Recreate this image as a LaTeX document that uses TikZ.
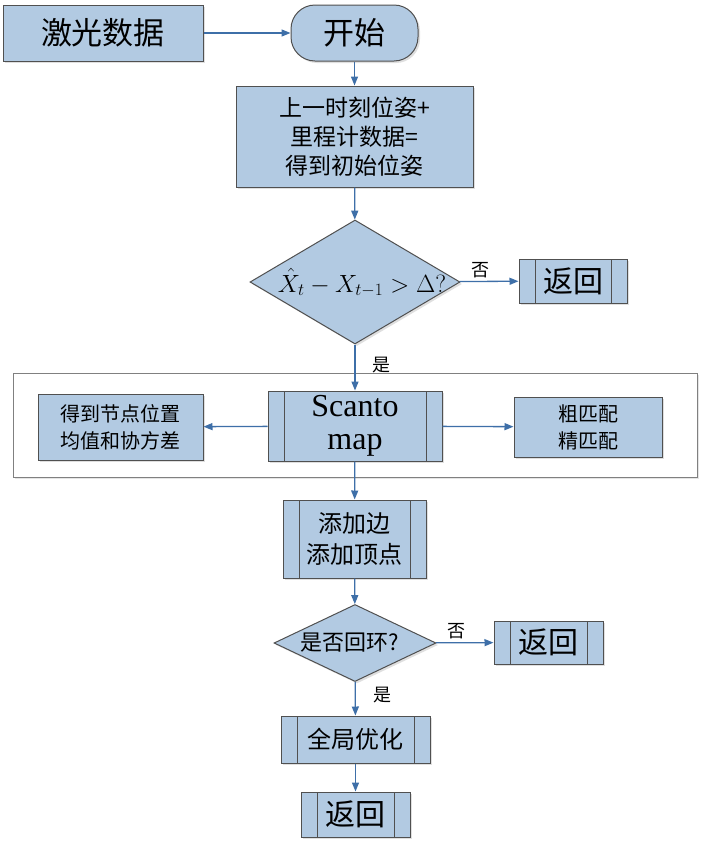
\documentclass[tikz,border=0pt]{standalone}
\usepackage{fontspec}
\setmainfont{Liberation Serif}
\newfontfamily\cjk{Noto Sans CJK SC}
\usetikzlibrary{shapes.geometric,arrows.meta,shadows}
\definecolor{boxfill}{HTML}{B2CAE2}
\definecolor{boxline}{HTML}{505050}
\definecolor{arr}{HTML}{3E6FA8}
\tikzset{
 bx/.style={draw=boxline,fill=boxfill,line width=1pt,inner sep=0pt,align=center,font=\cjk,
   drop shadow={shadow xshift=2pt,shadow yshift=-2pt,fill=black!25}},
 pp/.style={bx,path picture={
   \draw[boxline,line width=1pt] ([xshift=16pt]path picture bounding box.north west) -- ([xshift=16pt]path picture bounding box.south west);
   \draw[boxline,line width=1pt] ([xshift=-16pt]path picture bounding box.north east) -- ([xshift=-16pt]path picture bounding box.south east);}},
 ar/.style={draw=arr,line width=1.3pt,-{Triangle[length=9pt,width=7pt]}},
 lb/.style={font=\cjk\fontsize{18}{18}\selectfont}
}
\begin{document}
\begin{tikzpicture}[x=1pt,y=-1pt]
\useasboundingbox (0,0) rectangle (703,844);
\draw[gray,line width=1pt,drop shadow={shadow xshift=2pt,shadow yshift=-2pt,fill=black!20},fill=white] (13,373) rectangle (697,477);
\node[bx,minimum width=200pt,minimum height=56pt,font=\cjk\fontsize{31}{31}\selectfont] (laser) at (103,33) {激光数据};
\node[bx,rounded corners=24pt,minimum width=127pt,minimum height=56pt,font=\cjk\fontsize{31}{31}\selectfont] (start) at (354.5,33) {开始};
\node[bx,minimum width=237pt,minimum height=101pt,font=\cjk\fontsize{23}{29}\selectfont] (init) at (354.5,136.5) {上一时刻位姿+\\里程计数据=\\得到初始位姿};
\node[bx,diamond,minimum width=210pt,minimum height=124pt] (d1) at (355,282) {};
\node[font=\fontsize{23}{23}\selectfont] (m1) at (362,283) {$\hat{X}_t - X_{t-1} > \Delta ?$};
\node[pp,minimum width=108pt,minimum height=44pt,font=\cjk\fontsize{30}{30}\selectfont] (r1) at (573,281) {返回};
\node[pp,minimum width=174pt,minimum height=70pt,font=\fontsize{32}{33}\selectfont] (scan) at (355,426) {Scanto\\map};
\node[bx,minimum width=165pt,minimum height=66pt,font=\cjk\fontsize{20}{27}\selectfont] (node) at (120.5,427) {得到节点位置\\均值和协方差};
\node[bx,minimum width=148pt,minimum height=60pt,font=\cjk\fontsize{20}{27}\selectfont] (match) at (588,427) {粗匹配\\精匹配};
\node[pp,minimum width=143pt,minimum height=78pt,font=\cjk\fontsize{24}{31}\selectfont] (add) at (354.5,539) {添加边\\添加顶点};
\node[bx,diamond,minimum width=162pt,minimum height=77pt] (d2) at (355,643) {};
\node[font=\cjk\fontsize{22}{22}\selectfont] (t2) at (350,643) {是否回环?};
\node[pp,minimum width=109pt,minimum height=43pt,font=\cjk\fontsize{30}{30}\selectfont] (r2) at (548.5,642.5) {返回};
\node[pp,minimum width=149pt,minimum height=47pt,font=\cjk\fontsize{24}{24}\selectfont] (opt) at (355.5,739.5) {全局优化};
\node[pp,minimum width=109pt,minimum height=45pt,font=\cjk\fontsize{30}{30}\selectfont] (r3) at (355.5,814.5) {返回};
\draw[ar] (laser) -- (start);
\draw[ar] (start) -- (init);
\draw[ar] (init) -- (d1);
\draw[ar] (d1) -- node[lb,above,pos=0.35] {否} (r1);
\draw[ar] (d1) -- node[lb,right,pos=0.45,xshift=14pt] {是} (scan);
\draw[ar] (scan) -- (node);
\draw[ar] (scan) -- (match);
\draw[ar] (scan) -- (add);
\draw[ar] (add) -- (d2);
\draw[ar] (d2) -- node[lb,above,pos=0.35] {否} (r2);
\draw[ar] (d2) -- node[lb,right,pos=0.4,xshift=14pt] {是} (opt);
\draw[ar] (opt) -- (r3);
\end{tikzpicture}
\end{document}
